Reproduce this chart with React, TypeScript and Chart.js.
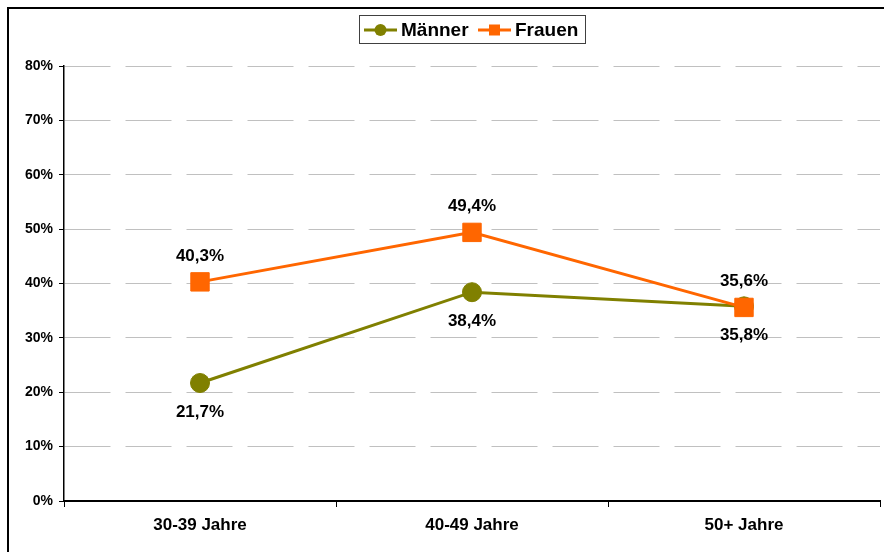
import React, { useEffect, useRef } from "react";
import { Chart, registerables } from "chart.js";

Chart.register(...registerables);

const categories = ["30-39 Jahre", "40-49 Jahre", "50+ Jahre"];
const maenner = [21.7, 38.4, 35.8];
const frauen = [40.3, 49.4, 35.6];
const yTicks = [0, 10, 20, 30, 40, 50, 60, 70, 80];

const OLIVE = "#808000";
const ORANGE = "#FF6600";
const FONT = "'Liberation Sans', Arial, Helvetica, sans-serif";

const fmt = (v: number) => v.toFixed(1).replace(".", ",") + "%";

const framePlugin = {
  id: "frame",
  afterDraw(chart: any) {
    const ctx = chart.ctx;
    ctx.save();
    ctx.fillStyle = "#000";
    ctx.fillRect(7, 7, 2, chart.height - 7);
    ctx.fillRect(7, 7, chart.width - 7, 2);
    ctx.restore();
  },
};

const labelPlugin = {
  id: "valueLabels",
  afterDatasetsDraw(chart: any) {
    const ctx = chart.ctx;
    ctx.save();
    ctx.font = `bold 17px ${FONT}`;
    ctx.fillStyle = "#000";
    ctx.textAlign = "center";
    ctx.textBaseline = "middle";
    chart.data.datasets.forEach((ds: any, di: number) => {
      const meta = chart.getDatasetMeta(di);
      const off = ds.labelPos === "above" ? -26 : 29;
      meta.data.forEach((pt: any, i: number) => {
        ctx.fillText(fmt(ds.data[i]), pt.x, pt.y + off);
      });
    });
    ctx.restore();
  },
};

const legendPlugin = {
  id: "customLegend",
  afterDraw(chart: any) {
    const ctx = chart.ctx;
    ctx.save();
    ctx.strokeStyle = "#404040";
    ctx.lineWidth = 1;
    ctx.fillStyle = "#fff";
    ctx.fillRect(359.5, 15.5, 226, 28);
    ctx.strokeRect(359.5, 15.5, 226, 28);
    const cy = 30;
    const ds = chart.data.datasets;
    const items = [
      { d: ds.find((x: any) => x.label === "Männer"), x0: 364, tx: 401 },
      { d: ds.find((x: any) => x.label === "Frauen"), x0: 478, tx: 515 },
    ];
    ctx.font = `bold 19px ${FONT}`;
    ctx.textBaseline = "middle";
    ctx.textAlign = "left";
    items.forEach(({ d, x0, tx }) => {
      ctx.strokeStyle = d.borderColor;
      ctx.lineWidth = 3;
      ctx.beginPath();
      ctx.moveTo(x0, cy);
      ctx.lineTo(x0 + 33, cy);
      ctx.stroke();
      ctx.fillStyle = d.borderColor;
      const mx = x0 + 16.5;
      if (d.pointStyle === "circle") {
        ctx.beginPath();
        ctx.arc(mx, cy, 6, 0, Math.PI * 2);
        ctx.fill();
      } else {
        ctx.fillRect(mx - 5.5, cy - 5.5, 11, 11);
      }
      ctx.fillStyle = "#000";
      ctx.fillText(d.label, tx, cy + 1);
    });
    ctx.restore();
  },
};

export default function App() {
  const ref = useRef<HTMLCanvasElement>(null);

  useEffect(() => {
    if (!ref.current) return;
    const chart = new Chart(ref.current, {
      type: "line",
      data: {
        labels: categories,
        datasets: [
          {
            label: "Männer",
            data: maenner,
            borderColor: OLIVE,
            backgroundColor: OLIVE,
            pointBackgroundColor: OLIVE,
            pointBorderColor: OLIVE,
            pointStyle: "circle",
            pointRadius: 9.5,
            pointBorderWidth: 1,
            borderWidth: 3,
            order: 1,
            labelPos: "below",
          } as any,
          {
            label: "Frauen",
            data: frauen,
            borderColor: ORANGE,
            backgroundColor: ORANGE,
            pointBackgroundColor: ORANGE,
            pointBorderColor: ORANGE,
            pointStyle: "rect",
            pointRadius: 13,
            pointBorderWidth: 1,
            borderWidth: 3,
            order: 0,
            labelPos: "above",
          } as any,
        ],
      },
      options: {
        animation: false,
        responsive: false,
        maintainAspectRatio: false,
        layout: { autoPadding: false, padding: { top: 66, right: 4, left: 0, bottom: 0 } },
        plugins: {
          legend: { display: false },
          tooltip: { enabled: false },
        },
        elements: { line: { tension: 0 } },
        scales: {
          x: {
            type: "category",
            offset: true,
            grid: {
              offset: true,
              drawOnChartArea: false,
              drawTicks: true,
              tickLength: 6,
              tickColor: "#000",
              tickWidth: 1,
            },
            border: { color: "#000", width: 2 },
            ticks: {
              color: "#000",
              font: { family: FONT, size: 17, weight: "bold" },
              padding: 8,
              maxRotation: 0,
            },
            afterFit(scale: any) {
              scale.height = 51;
              scale.paddingLeft = 0;
              scale.paddingRight = 0;
            },
          },
          y: {
            min: yTicks[0],
            max: yTicks[yTicks.length - 1],
            afterBuildTicks(scale: any) {
              scale.ticks = yTicks.map((v) => ({ value: v }));
            },
            grid: {
              color: "#c0c0c0",
              lineWidth: 1,
              tickLength: 5,
              tickColor: "#000",
              tickWidth: 1,
            },
            border: { color: "#000", width: 1.5, dash: [46, 15] },
            ticks: {
              color: "#000",
              font: { family: FONT, size: 14, weight: "bold" },
              padding: 6,
              callback: (v: any) => v + "%",
            },
            afterFit(scale: any) {
              scale.width = 64;
            },
          },
        },
      },
      plugins: [labelPlugin, legendPlugin, framePlugin],
    });
    return () => chart.destroy();
  }, []);

  return (
    <div style={{ position: "fixed", left: 0, top: 0, width: 884, height: 552, background: "#fff" }}>
      <canvas ref={ref} width={884} height={552} style={{ display: "block" }} />
    </div>
  );
}
